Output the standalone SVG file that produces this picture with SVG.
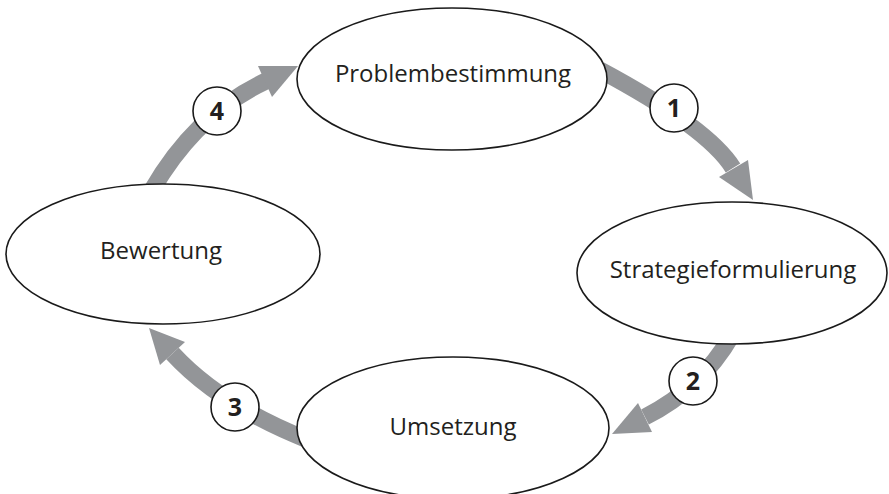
<svg xmlns="http://www.w3.org/2000/svg" width="889" height="494" viewBox="0 0 889 494">
<style>
.band{fill:none;stroke:#939598;stroke-width:17}
.head{fill:#939598}
.node{fill:#fff;stroke:#1a1a1a;stroke-width:1.6}
.lbl{font-family:"Open Sans","Noto Sans",sans-serif;font-size:24px;fill:#231f20;text-anchor:middle}
.num circle{fill:#fff;stroke:#1a1a1a;stroke-width:1.6}
.num text{font-family:"Open Sans","Noto Sans",sans-serif;font-weight:bold;font-size:25px;fill:#231f20;text-anchor:middle}
</style>
<rect width="889" height="494" fill="#fff"/>
<g id="connectors">
<path class="band" d="M152,190 Q195.7,114 266,81"/>
<polygon class="head" points="258,66 298,66 272,97"/>
<path class="band" d="M600,70 Q708.3,128 733,168"/>
<polygon class="head" points="719,177 753,200 748,160"/>
<path class="band" d="M732,335 Q700.8,389 645,417"/>
<polygon class="head" points="638,403 612,434 652,432"/>
<path class="band" d="M308,440 Q219.9,405 172.5,353.5"/>
<polygon class="head" points="160,365 149,328 185,342"/>
</g>
<g id="node-problembestimmung">
<ellipse class="node" cx="452" cy="79" rx="155" ry="71"/>
<text class="lbl" x="453" y="82">Problembestimmung</text>
</g>
<g id="node-strategieformulierung">
<ellipse class="node" cx="732" cy="273" rx="155" ry="71"/>
<text class="lbl" x="733" y="278">Strategieformulierung</text>
</g>
<g id="node-umsetzung">
<ellipse class="node" cx="453" cy="428" rx="156" ry="71"/>
<text class="lbl" x="453" y="435">Umsetzung</text>
</g>
<g id="node-bewertung">
<ellipse class="node" cx="163" cy="254" rx="157" ry="70"/>
<text class="lbl" x="161" y="259">Bewertung</text>
</g>
<g id="labels">
<g class="num"><circle cx="674" cy="108" r="24"/><text x="674" y="117">1</text></g>
<g class="num"><circle cx="693" cy="381" r="24"/><text x="693" y="390">2</text></g>
<g class="num"><circle cx="235" cy="407" r="24"/><text x="235" y="416">3</text></g>
<g class="num"><circle cx="217" cy="111" r="24"/><text x="217" y="120">4</text></g>
</g>
</svg>
